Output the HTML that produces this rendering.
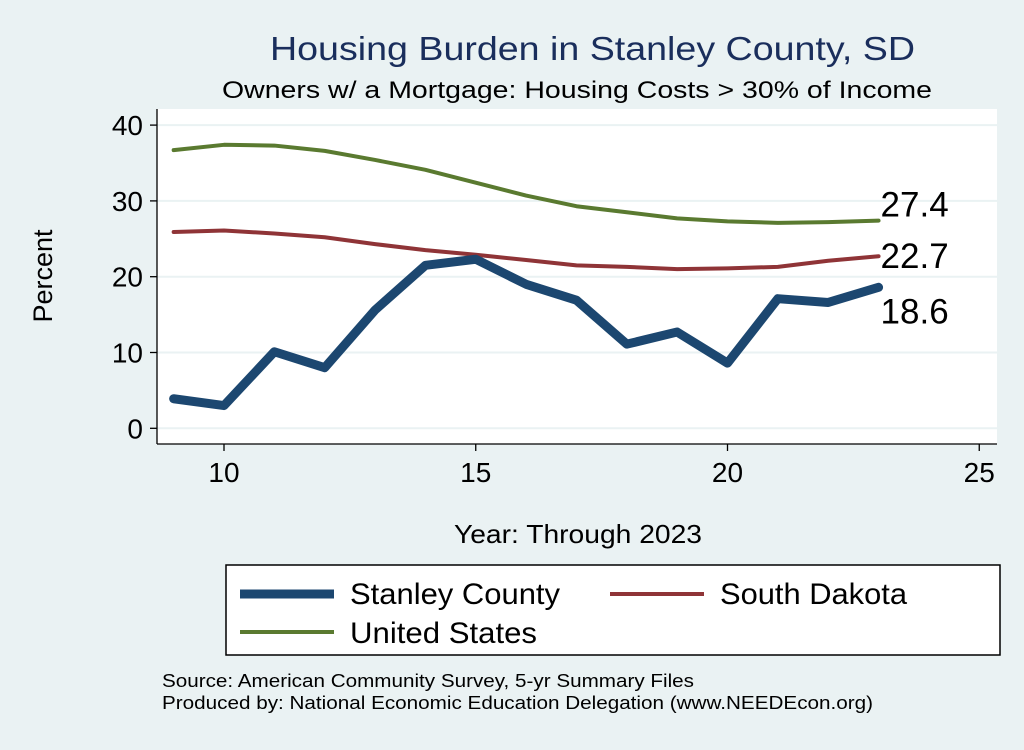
<!DOCTYPE html>
<html><head><meta charset="utf-8"><style>
body{margin:0;width:1024px;height:745px;background:#eaf2f3;font-family:"Liberation Sans",Arial,sans-serif;overflow:hidden}
svg text{font-family:"Liberation Sans",Arial,sans-serif}
</style></head><body>
<svg id="chart" width="1024" height="745" xmlns="http://www.w3.org/2000/svg">
<rect x="0" y="0" width="1024" height="745" fill="#eaf2f3"/>
<text x="270" y="60" font-size="33" fill="#1a2e5c" textLength="645" lengthAdjust="spacingAndGlyphs">Housing Burden in Stanley County, SD</text>
<text x="222" y="98" font-size="24" fill="#000" textLength="710" lengthAdjust="spacingAndGlyphs">Owners w/ a Mortgage: Housing Costs &gt; 30% of Income</text>
<rect x="157" y="109" width="840" height="335" fill="#fff"/>
<g id="grid"></g>
<g id="axes"></g>
<g id="series"></g>
<text x="52" y="276" font-size="27" text-anchor="middle" transform="rotate(-90 52 276)">Percent</text>
<text x="454" y="543" font-size="26" textLength="248" lengthAdjust="spacingAndGlyphs">Year: Through 2023</text>
<g>
<rect x="226" y="565" width="774" height="90" fill="#fff" stroke="#000" stroke-width="1.5"/>
<line x1="240" y1="594" x2="334" y2="594" stroke="#1c4770" stroke-width="9"/>
<text x="350" y="604" font-size="30" textLength="210" lengthAdjust="spacingAndGlyphs">Stanley County</text>
<line x1="610" y1="594" x2="704" y2="594" stroke="#8f3437" stroke-width="4"/>
<text x="720" y="604" font-size="30" textLength="187" lengthAdjust="spacingAndGlyphs">South Dakota</text>
<line x1="240" y1="632" x2="334" y2="632" stroke="#5a7a30" stroke-width="4"/>
<text x="350" y="643" font-size="30" textLength="187" lengthAdjust="spacingAndGlyphs">United States</text>
</g>
<text x="162" y="687" font-size="18" textLength="532" lengthAdjust="spacingAndGlyphs">Source: American Community Survey, 5-yr Summary Files</text>
<text x="162" y="709" font-size="18" textLength="711" lengthAdjust="spacingAndGlyphs">Produced by: National Economic Education Delegation (www.NEEDEcon.org)</text>
</svg>
<script>
const years=[9,10,11,12,13,14,15,16,17,18,19,20,21,22,23];
const stanley=[3.9,3.0,10.1,8.0,15.6,21.5,22.3,19.0,16.9,11.1,12.7,8.6,17.1,16.6,18.6];
const southDakota=[25.9,26.1,25.7,25.2,24.3,23.5,22.9,22.2,21.5,21.3,21.0,21.1,21.3,22.1,22.7];
const unitedStates=[36.7,37.4,37.3,36.6,35.4,34.1,32.4,30.7,29.3,28.5,27.7,27.3,27.1,27.2,27.4];
const yTicks=[0,10,20,30,40];
const xTicks=[10,15,20,25];
const NS="http://www.w3.org/2000/svg";
const X=v=>224+(v-10)*50.35;
const Y=v=>428.3-v*7.58;
function mk(tag,attrs,parent){const e=document.createElementNS(NS,tag);for(const k in attrs)e.setAttribute(k,attrs[k]);parent.appendChild(e);return e;}
const grid=document.getElementById('grid'),axes=document.getElementById('axes'),ser=document.getElementById('series');
yTicks.forEach(t=>{
 const g=mk('line',{x1:157,x2:997,y1:Y(t),y2:Y(t),stroke:'#eaf2f3','stroke-width':2},grid);
 
 
 const tk=mk('line',{x1:150,x2:157,y1:Y(t),y2:Y(t),stroke:'#000','stroke-width':1.3},axes);
 
 
 const lb=mk('text',{x:143,y:Y(t)+10,'font-size':28,'text-anchor':'end'},axes);lb.textContent=t;
 
 
});
xTicks.forEach(t=>{
 const tk=mk('line',{x1:X(t),x2:X(t),y1:444,y2:451,stroke:'#000','stroke-width':1.3},axes);
 
 
 const lb=mk('text',{x:X(t),y:482,'font-size':28,'text-anchor':'middle'},axes);lb.textContent=t;
 
 
});
const ya=mk('line',{x1:157,x2:157,y1:109,y2:444,stroke:'#000','stroke-width':1.3},axes);


const xa=mk('line',{x1:157,x2:997,y1:444,y2:444,stroke:'#000','stroke-width':1.3},axes);


function line(vals,color,w,name,labDy){
 const p=mk('polyline',{points:vals.map((v,i)=>X(years[i])+','+Y(v)).join(' '),fill:'none',stroke:color,'stroke-width':w,'stroke-linejoin':'round','stroke-linecap':'round'},ser);
 
 
 const last=vals[vals.length-1];
 const t=mk('text',{x:X(years[years.length-1])+2,y:Y(last)+labDy,'font-size':35},ser);t.textContent=last.toFixed(1);
 
 
}
line(unitedStates,'#5a7a30',4,'united-states',-4);
line(southDakota,'#8f3437',4,'south-dakota',12);
line(stanley,'#1c4770',9,'stanley-county',36);
</script>
</body></html>
